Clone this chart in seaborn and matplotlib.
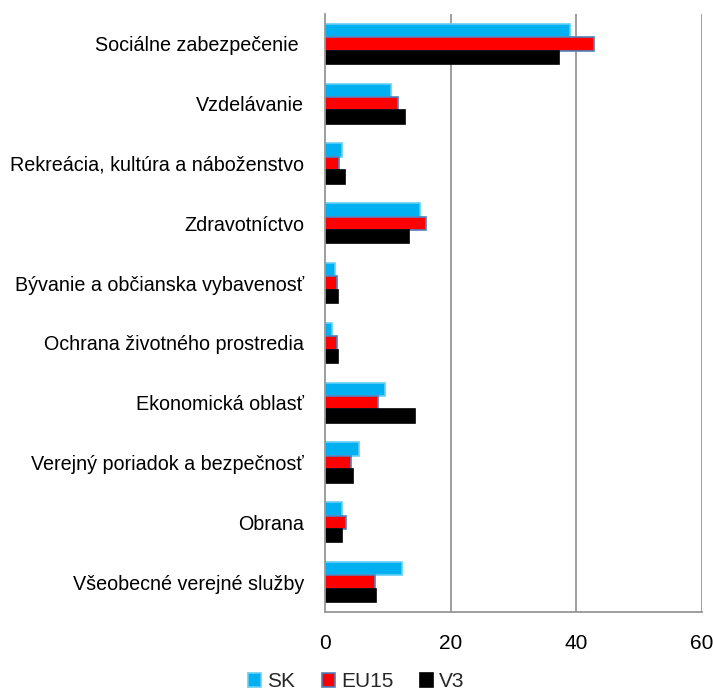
import matplotlib
matplotlib.use("Agg")
import matplotlib.pyplot as plt
import seaborn as sns
import pandas as pd
import numpy as np
from matplotlib.patches import Patch

categories = [
    "Sociálne zabezpečenie ",
    "Vzdelávanie",
    "Rekreácia, kultúra a náboženstvo",
    "Zdravotníctvo",
    "Bývanie a občianska vybavenosť",
    "Ochrana životného prostredia",
    "Ekonomická oblasť",
    "Verejný poriadok a bezpečnosť",
    "Obrana",
    "Všeobecné verejné služby",
]
series = ["SK", "EU15", "V3"]
sk = [39.1, 10.5, 2.7, 15.2, 1.6, 1.1, 9.6, 5.4, 2.7, 12.3]
eu15 = [42.9, 11.6, 2.2, 16.1, 1.9, 1.9, 8.5, 4.1, 3.3, 8.0]
v3 = [37.3, 12.8, 3.2, 13.4, 2.1, 2.0, 14.3, 4.5, 2.7, 8.1]
xticks = [0, 20, 40, 60]

colors = {"SK": "#00B0F0", "EU15": "#FF0000", "V3": "#000000"}
edges = {"SK": "#66CFF5", "EU15": "#4F81BD", "V3": "#000000"}

rows = []
for s, vals in zip(series, [sk, eu15, v3]):
    for c, v in zip(categories, vals):
        rows.append({"cat": c, "val": v, "series": s})
df = pd.DataFrame(rows)

sns.set_style("white")
plt.rcParams["font.family"] = ["Liberation Sans", "DejaVu Sans"]

fig = plt.figure(figsize=(7.13, 6.93), dpi=100)
ax = fig.add_axes([325 / 713, 1 - 612 / 693, (701.5 - 325) / 713, (612 - 14) / 693])

sns.barplot(data=df, y="cat", x="val", hue="series", order=categories,
            hue_order=series, palette=colors, orient="h", width=0.67,
            ax=ax, legend=False, saturation=1)

for container, s in zip(ax.containers, series):
    for p in container:
        p.set_edgecolor(edges[s])
        p.set_linewidth(1.2)

ax.set_xlim(0, 60)
ax.set_ylim(len(categories) - 0.5, -0.5)
ax.set_xticks(xticks)
ax.set_xticklabels([str(t) for t in xticks])
ax.set_xlabel("")
ax.set_ylabel("")

grid_c = "#969696"
for t in xticks[1:]:
    ax.axvline(t, color=grid_c, lw=1.3, zorder=0)

for side in ["top", "right"]:
    ax.spines[side].set_visible(False)
for side in ["left", "bottom"]:
    ax.spines[side].set_color(grid_c)
    ax.spines[side].set_linewidth(1.3)

ax.tick_params(axis="y", which="major", length=0, pad=15, labelsize=14.2, labelcolor="#000000")
ax.set_yticks(np.arange(-0.5, len(categories), 1.0), minor=True)
ax.tick_params(axis="y", which="minor", length=5, width=1.3, color=grid_c, direction="out")
ax.tick_params(axis="x", which="major", length=6, width=1.3, color=grid_c, direction="out",
               pad=10, labelsize=15, labelcolor="#000000")

handles = [Patch(facecolor=colors[s], edgecolor=edges[s], linewidth=1.2, label=s) for s in series]
fig.legend(handles=handles, loc="center", bbox_to_anchor=(0.5, 0.016), ncol=3,
           frameon=False, fontsize=15, handlelength=0.6, handleheight=0.6,
           handletextpad=0.3, columnspacing=1.3, borderpad=0)

fig.savefig("out.png", dpi=100, facecolor="white")
